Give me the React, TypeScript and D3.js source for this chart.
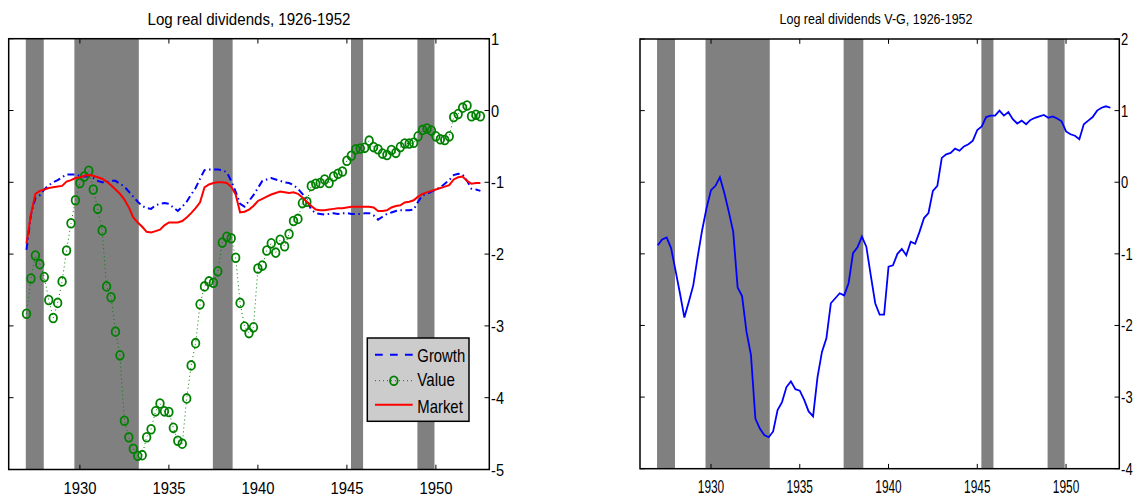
import React from "react";
import * as d3 from "d3";

// ---------- data (quarterly, first observation 1927.0) ----------
const FIRST_QUARTER = 1927.0;
const QUARTER_STEP = 0.25;

const growthValues = [
  -1.94, -1.45, -1.22, -1.18, -1.10, -1.04, -1.00, -0.97, -0.93, -0.89,
  -0.89, -0.89, -0.91, -0.92, -0.92, -0.94, -0.98, -1.00, -1.00, -0.98,
  -0.98, -1.02, -1.06, -1.13, -1.20, -1.27, -1.33, -1.36, -1.37, -1.32,
  -1.30, -1.29, -1.30, -1.35, -1.40, -1.34, -1.27, -1.17, -1.08, -0.95,
  -0.83, -0.82, -0.82, -0.82, -0.83, -0.86, -0.98, -1.13, -1.30, -1.34,
  -1.26, -1.18, -1.08, -0.98, -0.96, -0.94, -0.96, -0.98, -1.00, -1.01,
  -1.04, -1.09, -1.16, -1.25, -1.38, -1.43, -1.44, -1.45, -1.44, -1.43,
  -1.44, -1.43, -1.43, -1.44, -1.44, -1.44, -1.43, -1.43, -1.46, -1.52,
  -1.48, -1.44, -1.42, -1.40, -1.39, -1.39, -1.39, -1.38, -1.27, -1.18,
  -1.16, -1.13, -1.10, -1.07, -1.02, -0.97, -0.90, -0.88, -0.89, -0.98,
  -1.09, -1.10, -1.12,
];

const marketValues = [
  -1.85, -1.45, -1.16, -1.12, -1.10, -1.08, -1.07, -1.06, -1.05, -0.99,
  -0.97, -0.94, -0.93, -0.91, -0.90, -0.91, -0.93, -0.95, -0.99, -1.04,
  -1.10, -1.16, -1.24, -1.35, -1.49, -1.56, -1.62, -1.69, -1.70, -1.68,
  -1.66, -1.60, -1.56, -1.56, -1.56, -1.54, -1.49, -1.43, -1.36, -1.28,
  -1.07, -1.03, -1.01, -1.00, -1.00, -1.01, -1.06, -1.17, -1.42, -1.41,
  -1.38, -1.33, -1.26, -1.23, -1.20, -1.17, -1.15, -1.13, -1.14, -1.15,
  -1.14, -1.16, -1.21, -1.27, -1.33, -1.38, -1.39, -1.39, -1.38, -1.37,
  -1.36, -1.36, -1.35, -1.34, -1.34, -1.34, -1.34, -1.34, -1.35, -1.40,
  -1.40, -1.39, -1.35, -1.33, -1.32, -1.28, -1.27, -1.25, -1.20, -1.16,
  -1.14, -1.12, -1.10, -1.08, -1.06, -1.04, -0.96, -0.93, -0.92, -0.98,
  -1.02, -1.01, -1.01,
];

const valueValues = [
  -2.83, -2.34, -2.02, -2.14, -2.32, -2.64, -2.89, -2.68, -2.38, -1.95,
  -1.57, -1.25, -1.01, -0.92, -0.84, -1.10, -1.37, -1.67, -2.45, -2.60,
  -3.08, -3.41, -4.32, -4.55, -4.71, -4.81, -4.80, -4.55, -4.44, -4.19,
  -4.08, -4.19, -4.20, -4.42, -4.60, -4.64, -4.01, -3.55, -3.24, -2.70,
  -2.45, -2.38, -2.40, -2.24, -1.84, -1.76, -1.78, -2.05, -2.68, -3.01,
  -3.10, -3.02, -2.20, -2.16, -1.95, -1.85, -1.98, -1.80, -1.89, -1.72,
  -1.54, -1.51, -1.29, -1.27, -1.05, -1.02, -1.01, -0.96, -1.01, -0.92,
  -0.88, -0.85, -0.70, -0.63, -0.54, -0.53, -0.52, -0.42, -0.51, -0.54,
  -0.60, -0.62, -0.55, -0.59, -0.51, -0.46, -0.46, -0.45, -0.36, -0.27,
  -0.25, -0.28, -0.36, -0.40, -0.41, -0.36, -0.09, -0.05, 0.04, 0.07,
  -0.08, -0.06, -0.08,
];

const spreadValues = [
  -0.88, -0.80, -0.77, -0.92, -1.23, -1.55, -1.89, -1.67, -1.44, -1.04,
  -0.67, -0.36, -0.11, -0.05, 0.07, -0.15, -0.41, -0.69, -1.47, -1.59,
  -2.09, -2.41, -3.30, -3.44, -3.53, -3.56, -3.48, -3.18, -3.07, -2.86,
  -2.78, -2.89, -2.91, -3.04, -3.20, -3.27, -2.72, -2.37, -2.18, -1.69,
  -1.62, -1.55, -1.58, -1.41, -0.99, -0.91, -0.76, -0.90, -1.30, -1.69,
  -1.85, -1.85, -1.18, -1.16, -1.00, -0.93, -1.02, -0.83, -0.86, -0.69,
  -0.50, -0.43, -0.12, -0.05, 0.34, 0.39, 0.41, 0.47, 0.44, 0.50,
  0.53, 0.58, 0.73, 0.78, 0.91, 0.93, 0.93, 1.00, 0.93, 0.98,
  0.88, 0.82, 0.86, 0.81, 0.87, 0.90, 0.92, 0.94, 0.90, 0.92,
  0.89, 0.85, 0.71, 0.67, 0.65, 0.60, 0.81, 0.86, 0.91, 1.00,
  1.04, 1.06, 1.04,
];

// recession bands [start, end] in fractional years
const recessionStarts = [1926.96, 1929.69, 1937.47, 1945.23, 1948.96];
const recessionEnds = [1927.97, 1933.31, 1938.58, 1945.91, 1949.92];

const xTickValues = [1930, 1935, 1940, 1945, 1950];
const leftYTicks = [-5, -4, -3, -2, -1, 0, 1];
const rightYTicks = [-4, -3, -2, -1, 0, 1, 2];
const legendLabels = ["Growth", "Value", "Market"];

const quarters = valueValues.map((_, i) => FIRST_QUARTER + i * QUARTER_STEP);

const FONT = "'Liberation Sans Narrow', 'Arial Narrow', 'Liberation Sans', Arial, sans-serif";
const GREEN = "#008000";
const BLUE = "#0000ff";
const RED = "#ff0000";
const BAND = "#808080";

function labelWidth(s: string, digitW: number, minusW: number) {
  let w = 0;
  for (const c of s) w += c === "-" ? minusW : digitW;
  return w;
}

type PanelProps = {
  x0: number; x1: number; y0: number; y1: number;
  yDomain: [number, number];
  yTicks: number[];
  title: string; titleX: number; titleY: number; titleSize: number; titleLen: number;
  xLabelSize: number; xDigit: number;
  yLabelSize: number; yDigit: number; yMinus: number;
  children?: (x: d3.ScaleLinear<number, number>, y: d3.ScaleLinear<number, number>) => React.ReactNode;
};

function Panel(p: PanelProps) {
  const x = d3.scaleLinear().domain([1926, 1953]).range([p.x0, p.x1]);
  const y = d3.scaleLinear().domain(p.yDomain).range([p.y1, p.y0]);
  const tl = 4.8;
  return (
    <g>
      {recessionStarts.map((s, i) => (
        <rect key={"b" + i} x={x(s)} y={p.y0} width={x(recessionEnds[i]) - x(s)} height={p.y1 - p.y0} fill={BAND} />
      ))}
      {p.children && p.children(x, y)}
      <rect x={p.x0} y={p.y0} width={p.x1 - p.x0} height={p.y1 - p.y0} fill="none" stroke="#000" strokeWidth={1.5} />
      {xTickValues.map((t) => (
        <g key={"xt" + t}>
          <line x1={x(t)} x2={x(t)} y1={p.y0} y2={p.y0 + tl} stroke="#000" strokeWidth={1} />
          <line x1={x(t)} x2={x(t)} y1={p.y1} y2={p.y1 - tl} stroke="#000" strokeWidth={1} />
          <text x={x(t)} y={p.y1 + 24} textAnchor="middle" fontFamily={FONT} fontSize={p.xLabelSize}
            textLength={labelWidth(String(t), p.xDigit, 0)} lengthAdjust="spacingAndGlyphs">{t}</text>
        </g>
      ))}
      {p.yTicks.map((v) => (
        <g key={"yt" + v}>
          <line x1={p.x0} x2={p.x0 + tl} y1={y(v)} y2={y(v)} stroke="#000" strokeWidth={1} />
          <line x1={p.x1} x2={p.x1 - tl} y1={y(v)} y2={y(v)} stroke="#000" strokeWidth={1} />
          <text x={p.x1 + 1.8} y={y(v) + 6} fontFamily={FONT} fontSize={p.yLabelSize}
            textLength={labelWidth(String(v), p.yDigit, p.yMinus)} lengthAdjust="spacingAndGlyphs">{v}</text>
        </g>
      ))}
      <text x={p.titleX} y={p.titleY} textAnchor="middle" fontFamily={FONT} fontSize={p.titleSize}
        textLength={p.titleLen} lengthAdjust="spacingAndGlyphs">{p.title}</text>
    </g>
  );
}

export default function App() {
  const pts = (vals: number[], x: any, y: any) => vals.map((v, i) => [x(quarters[i]), y(v)] as [number, number]);
  const lineGen = d3.line<[number, number]>();

  // legend geometry
  const lg = { x: 367.3, y: 338, w: 101.7, h: 83.3 };
  const lineX0 = 375, lineX1 = 412.7, textX = 417.3;
  const rowY = [354.7, 380.7, 404.7];
  const textY = [361.5, 386.3, 412.5];
  const textLens = [48, 37.5, 45.5];

  return (
    <svg width={1137} height={498} style={{ position: "absolute", left: 0, top: 0, background: "#fff" }}>
      <Panel x0={8.7} x1={489.3} y0={38.7} y1={469.5} yDomain={[-5, 1]} yTicks={leftYTicks}
        title="Log real dividends, 1926-1952" titleX={249} titleY={25} titleSize={17} titleLen={203}
        xLabelSize={17} xDigit={8.25} yLabelSize={17} yDigit={8.1} yMinus={4.8}>
        {(x, y) => (
          <g>
            <path d={lineGen(pts(growthValues, x, y)) || ""} fill="none" stroke={BLUE} strokeWidth={2}
              strokeDasharray="7 3.5 1.5 3.5" />
            <path d={lineGen(pts(valueValues, x, y)) || ""} fill="none" stroke={GREEN} strokeWidth={1}
              strokeDasharray="1 3" />
            {pts(valueValues, x, y).map(([cx, cy], i) => (
              <ellipse key={"c" + i} cx={cx} cy={cy} rx={3.8} ry={4.4} fill="none" stroke={GREEN} strokeWidth={1.8} />
            ))}
            <path d={lineGen(pts(marketValues, x, y)) || ""} fill="none" stroke={RED} strokeWidth={2} />
          </g>
        )}
      </Panel>

      <Panel x0={640} x1={1119.3} y0={39} y1={468.7} yDomain={[-4, 2]} yTicks={rightYTicks}
        title="Log real dividends V-G, 1926-1952" titleX={876} titleY={24} titleSize={15.5} titleLen={193}
        xLabelSize={17.5} xDigit={6.6} yLabelSize={17} yDigit={7.2} yMinus={4.4}>
        {(x, y) => (
          <path d={lineGen(pts(spreadValues, x, y)) || ""} fill="none" stroke={BLUE} strokeWidth={1.8} />
        )}
      </Panel>

      {/* legend */}
      <g>
        <rect x={lg.x} y={lg.y} width={lg.w} height={lg.h} fill="#cccccc" stroke="#000" strokeWidth={1.5} />
        <line x1={lineX0} x2={lineX1} y1={rowY[0]} y2={rowY[0]} stroke={BLUE} strokeWidth={2} strokeDasharray="7.7 7.3" />
        <line x1={lineX0} x2={lineX1} y1={rowY[1]} y2={rowY[1]} stroke={GREEN} strokeWidth={1} strokeDasharray="1 3" />
        <ellipse cx={(lineX0 + lineX1) / 2} cy={rowY[1]} rx={3.8} ry={4.4} fill="none" stroke={GREEN} strokeWidth={1.8} />
        <line x1={lineX0} x2={lineX1} y1={rowY[2]} y2={rowY[2]} stroke={RED} strokeWidth={2} />
        {legendLabels.map((l, i) => (
          <text key={l} x={textX} y={textY[i]} fontFamily={FONT} fontSize={19}
            textLength={textLens[i]} lengthAdjust="spacingAndGlyphs">{l}</text>
        ))}
      </g>
    </svg>
  );
}
